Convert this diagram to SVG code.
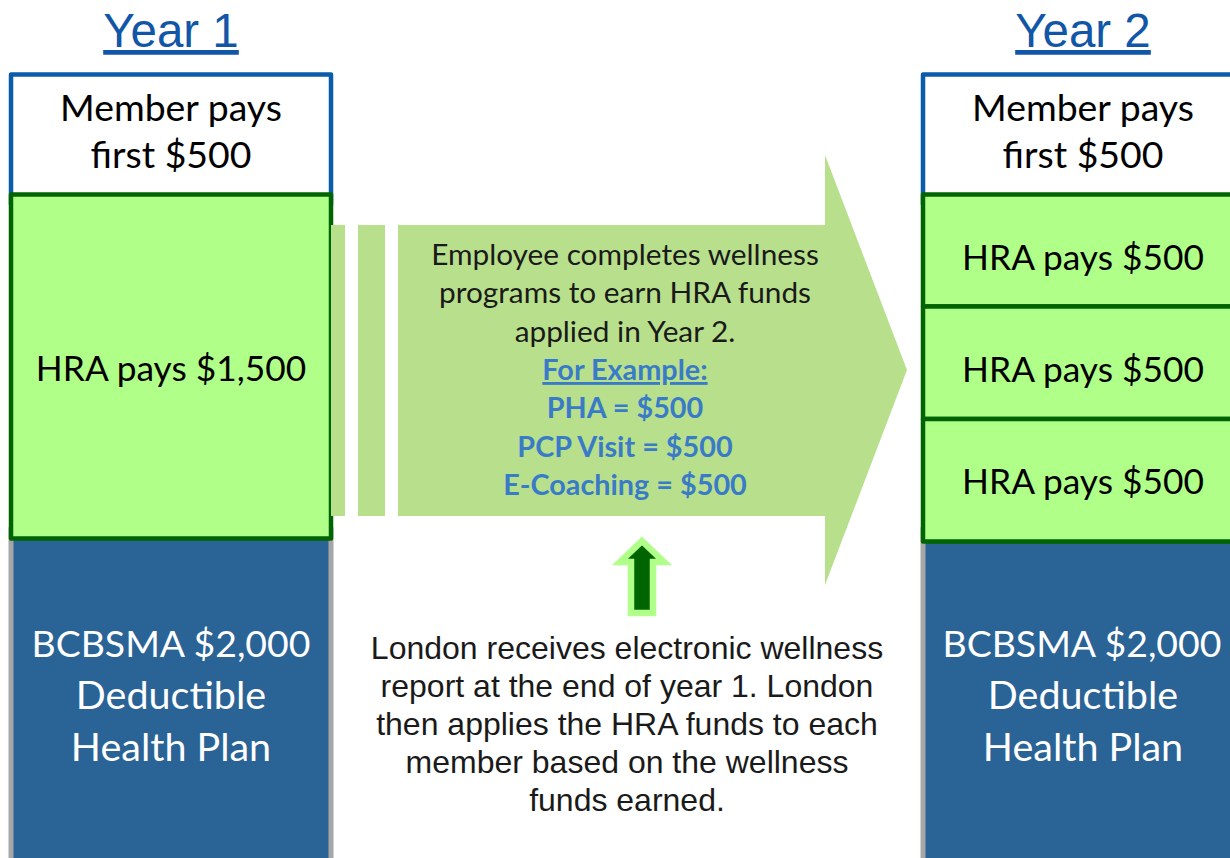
<svg xmlns="http://www.w3.org/2000/svg" width="1230" height="858" viewBox="0 0 1230 858">
  <style>
    .title { font-family: "Liberation Sans", Arial, sans-serif; font-size: 47.5px; fill: #1256a8; text-anchor: middle; text-decoration: underline; }
    .cal { font-family: Lato, "Open Sans", sans-serif; text-anchor: middle; }
    .member { font-size: 37.4px; fill: #000; }
    .hra { font-size: 35.3px; fill: #000; }
    .plan { font-size: 39.5px; fill: #fff; }
    .plan-head { font-size: 37.4px; fill: #fff; }
    .arrowtxt { font-size: 29.8px; fill: #1a1a1a; }
    .ex { font-size: 28.8px; fill: #3a7bc8; font-weight: bold; }
    .note { font-family: "Liberation Sans", Arial, sans-serif; font-size: 32px; fill: #1a1a1a; text-anchor: middle; }
    .topbox { fill: #fff; stroke: #0b5bab; stroke-width: 4.5; stroke-linejoin: round; }
    .hrabox { fill: #b0ff88; stroke: #006400; stroke-width: 4.5; stroke-linejoin: round; }
    .planbox { fill: #2a6395; stroke: #a6a6a6; stroke-width: 5; }
  </style>

  <!-- column headings -->
  <g id="year1-title"><text class="title" x="171" y="47">Year 1</text></g>
  <g id="year2-title"><text class="title" x="1083" y="47">Year 2</text></g>

  <!-- Year 1 column -->
  <g id="year1-plan">
    <rect class="planbox" x="11" y="530" width="320" height="350"/>
    <text class="cal plan-head" x="171" y="657">BCBSMA $2,000</text>
    <text class="cal plan" x="171" y="709">Deductible</text>
    <text class="cal plan" x="171" y="761">Health Plan</text>
  </g>
  <g id="year1-member">
    <rect class="topbox" x="11" y="74.5" width="320" height="130"/>
    <text class="cal member" x="171" y="121">Member pays</text>
    <text class="cal member" x="171" y="168">first $500</text>
  </g>
  <g id="year1-hra">
    <rect class="hrabox" x="11" y="194.5" width="320" height="344"/>
    <text class="cal hra" x="171" y="381">HRA pays $1,500</text>
  </g>

  <!-- Year 2 column -->
  <g id="year2-plan">
    <rect class="planbox" x="923" y="530" width="400" height="350"/>
    <text class="cal plan-head" x="1082" y="657">BCBSMA $2,000</text>
    <text class="cal plan" x="1083" y="709">Deductible</text>
    <text class="cal plan" x="1083" y="761">Health Plan</text>
  </g>
  <g id="year2-member">
    <rect class="topbox" x="923" y="74.5" width="400" height="130"/>
    <text class="cal member" x="1083" y="121">Member pays</text>
    <text class="cal member" x="1083" y="168">first $500</text>
  </g>
  <g id="year2-hra-1">
    <rect class="hrabox" x="923" y="194.5" width="400" height="112"/>
    <text class="cal hra" x="1083" y="270">HRA pays $500</text>
  </g>
  <g id="year2-hra-2">
    <rect class="hrabox" x="923" y="306.5" width="400" height="112.5"/>
    <text class="cal hra" x="1083" y="382">HRA pays $500</text>
  </g>
  <g id="year2-hra-3">
    <rect class="hrabox" x="923" y="419" width="400" height="122.5"/>
    <text class="cal hra" x="1083" y="494">HRA pays $500</text>
  </g>

  <!-- connectors: striped block arrow from Year 1 to Year 2, and the report arrow -->
  <g id="connectors">
    <g fill="#b8e08c">
      <rect x="331" y="225" width="14" height="291"/>
      <rect x="358" y="225" width="27" height="291"/>
      <polygon points="398,225 825,225 825,155 907,370 825,585 825,516 398,516"/>
    </g>
    <polygon points="642,541 664,562 653,562 653,613 631,613 631,562 620,562" fill="#006400" stroke="#b0ff88" stroke-width="6.5" stroke-linejoin="miter"/>
  </g>

  <!-- label on the block arrow -->
  <g id="wellness-programs">
    <text class="cal arrowtxt" x="625" y="265">Employee completes wellness</text>
    <text class="cal arrowtxt" x="625" y="303">programs to earn HRA funds</text>
    <text class="cal arrowtxt" x="625" y="342">applied in Year 2.</text>
    <text class="cal ex" x="625" y="380" text-decoration="underline">For Example:</text>
    <text class="cal ex" x="625" y="418">PHA = $500</text>
    <text class="cal ex" x="625" y="457">PCP Visit = $500</text>
    <text class="cal ex" x="625" y="495">E-Coaching = $500</text>
  </g>

  <!-- wellness report note -->
  <g id="wellness-report">
    <text class="note" x="627" y="659">London receives electronic wellness</text>
    <text class="note" x="627" y="697">report at the end of year 1. London</text>
    <text class="note" x="627" y="735">then applies the HRA funds to each</text>
    <text class="note" x="627" y="773">member based on the wellness</text>
    <text class="note" x="627" y="811">funds earned.</text>
  </g>
</svg>
